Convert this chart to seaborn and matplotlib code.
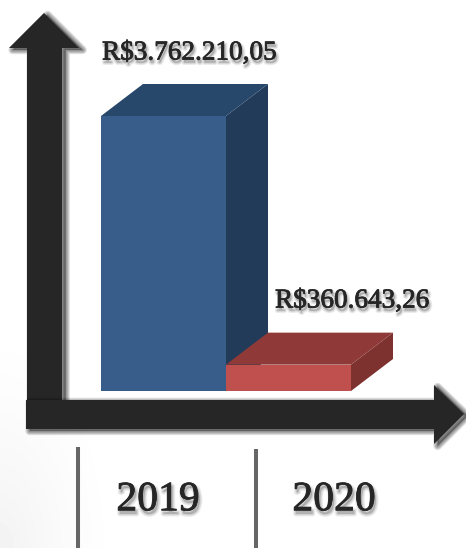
import numpy as np
import pandas as pd
import seaborn as sns
import matplotlib
matplotlib.use("Agg")
import matplotlib.pyplot as plt
import matplotlib.patheffects as pe
from matplotlib.patches import Polygon
from matplotlib.transforms import IdentityTransform

years = ["2019", "2020"]
values = [3762210.05, 360643.26]
value_labels = ["R$3.762.210,05", "R$360.643,26"]
front_colors = ["#385D8A", "#C0504D"]
top_colors = ["#27486A", "#8F3A38"]
side_colors = ["#213B59", "#7D3230"]

W, H = 466, 548
DPI = 100
INK = "#262626"
sns.set_theme(style="white")
plt.rcParams["font.family"] = ["Liberation Serif", "DejaVu Serif"]

fig = plt.figure(figsize=(W / DPI, H / DPI), dpi=DPI, facecolor="white")

# pixel-space layer for decoration (arrows, separators, text)
deco = fig.add_axes([0, 0, 1, 1], zorder=0)
deco.axis("off")

# faint slide vignette in the lower-left corner
yy, xx = np.mgrid[0:H, 0:W]
d = np.hypot(xx / 120.0, (H - yy) / 230.0)
shade = 1 - 0.05 * np.clip(1 - d, 0, 1) ** 1.3
deco.imshow(shade, cmap="gray", vmin=0, vmax=1, extent=(0, W, H, 0), aspect="auto", zorder=0)
deco.set_xlim(0, W)
deco.set_ylim(H, 0)


def soft_shadow(dx, dy, widths, alpha):
    return [pe.Stroke(offset=(dx, dy), linewidth=w, foreground="black", alpha=alpha,
                      joinstyle="round") for w in widths]


arrow_v = [(27, 410), (27, 48), (9, 48), (44, 13), (79, 48), (62, 48), (62, 410)]
arrow_h = [(26, 400), (434, 400), (434, 385), (464, 414), (434, 444), (434, 429), (26, 429)]
arrow_fx = soft_shadow(2.6, -1.4, [6, 4.5, 3, 1.5], 0.13) + [pe.Normal()]
for pts in (arrow_v, arrow_h):
    p = Polygon(pts, closed=True, fc=INK, ec="none", zorder=3)
    p.set_path_effects(arrow_fx)
    deco.add_patch(p)

for x, y0 in ((77.5, 447), (256, 449)):
    deco.plot([x, x], [y0, H], color="#666666", lw=2.9, solid_capstyle="butt", zorder=3)

crisp = [pe.Stroke(linewidth=0.6, foreground=INK), pe.Normal()]

for label, x, y in zip(years, (158, 334), (500, 500)):
    t = deco.text(x, y, label, ha="center", va="center", fontsize=30, color=INK, zorder=5)
    t.set_path_effects(soft_shadow(1.2, -2.5, [4, 2.5, 1.2], 0.07) + crisp)
for label, x, y in zip(value_labels, (102, 275), (53, 301)):
    t = deco.text(x, y, label, ha="left", va="center", fontsize=19.6, color=INK, zorder=5)
    t.set_path_effects(soft_shadow(1.0, -2.2, [3.5, 2.2, 1.0], 0.07) + crisp)

# bars: front faces come from seaborn's scales
left, right, top, base = 101, 351, 116, 391
ax = fig.add_axes([left / W, 1 - base / H, (right - left) / W, (base - top) / H], zorder=2)
df = pd.DataFrame({"year": years, "value": values})
sns.barplot(data=df, x="year", y="value", hue="year", palette=front_colors, width=1.0,
            dodge=False, legend=False, saturation=1, linewidth=0, edgecolor="none", ax=ax, zorder=4)
ax.set_xlim(-0.5, 1.5)
ax.set_ylim(0, max(values))
ax.axis("off")

# extruded depth, offset in pixels from each bar's own data corners
DX, DY = 42, 32
bars = sorted([b for b in ax.patches if b.get_height() > 0], key=lambda b: b.get_x())
for i, b in enumerate(bars):
    x0, x1 = b.get_x(), b.get_x() + b.get_width()
    h = b.get_height()
    (px, py), (qx, qy), (rx, ry) = ax.transData.transform([(x0, h), (x1, h), (x1, 0)])
    top_face = [(px, py), (qx, qy), (qx + DX, qy + DY), (px + DX, py + DY)]
    side_face = [(qx, qy), (rx, ry), (rx + DX, ry + DY), (qx + DX, qy + DY)]
    for face, col in ((side_face, side_colors[i]), (top_face, top_colors[i])):
        ax.add_patch(Polygon(face, closed=True, fc=col, ec="none",
                             transform=IdentityTransform(), clip_on=False, zorder=2 + i))

fig.savefig("out.png", dpi=DPI, facecolor="white")
